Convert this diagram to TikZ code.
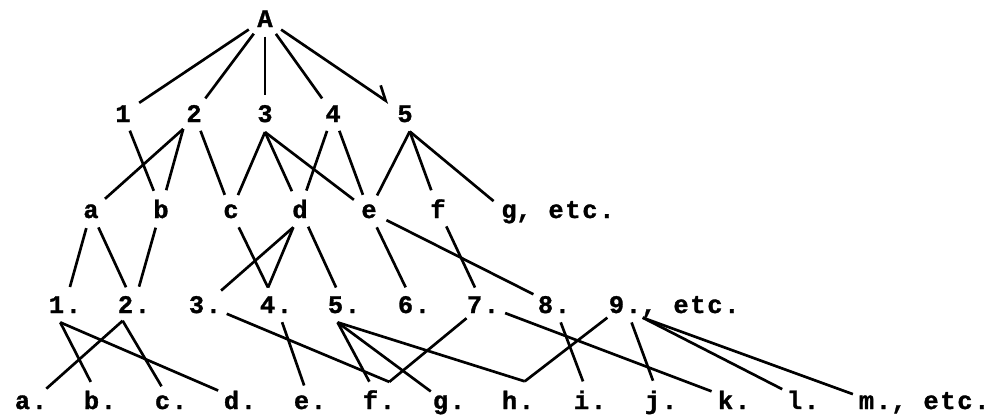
\documentclass[tikz,border=0pt]{standalone}
\usepackage{fontspec}
\usepackage{tikz}
\usetikzlibrary{arrows.meta, shapes.geometric}
\newfontfamily\typewriterfont{Liberation Mono}[UprightFont=* Bold, LetterSpace=7, FakeBold=1.2]
\tikzstyle{term} = [ellipse, inner xsep=1pt, inner ysep=3pt, minimum width=1cm, minimum height=0.85cm, anchor=base, font=\typewriterfont\fontsize{18}{21}\selectfont]
\tikzstyle{etctext} = [inner sep=0pt, anchor=base west, font=\typewriterfont\fontsize{18}{21}\selectfont]
\tikzstyle{link} = [line width=1.9pt]
\tikzstyle{arrow} = [link, -{Straight Barb[left, length=9pt, width=14pt]}]

\begin{document}
\begin{tikzpicture}[x=0.025cm, y=-0.025cm]
    \useasboundingbox (0,0) rectangle (1003,414);

    % Top
    \node[term] (A) at (265, 27) {A};

    % First level
    \node[term] (n1) at (123, 122) {1};
    \node[term] (n2) at (194, 122) {2};
    \node[term] (n3) at (265, 122) {3};
    \node[term] (n4) at (333, 122) {4};
    \node[term] (n5) at (405, 122) {5};

    % Second level
    \node[term] (a) at (91, 218) {a};
    \node[term] (b) at (161, 218) {b};
    \node[term] (c) at (231, 218) {c};
    \node[term] (d) at (300, 218) {d};
    \node[term] (e) at (369, 218) {e};
    \node[term] (f) at (438, 218) {f};
    \node[term] (g) at (509, 218) {g};
    \node[etctext] (getc) at (516, 218) {, etc.};

    % Third level
    \node[term] (r1) at (65, 313) {1.};
    \node[term] (r2) at (134, 313) {2.};
    \node[term] (r3) at (205, 313) {3.};
    \node[term] (r4) at (276, 313) {4.};
    \node[term] (r5) at (344, 313) {5.};
    \node[term] (r6) at (414, 313) {6.};
    \node[term] (r7) at (483, 313) {7.};
    \node[term] (r8) at (554, 313) {8.};
    \node[term] (r9) at (625, 313) {9.};
    \node[etctext] (retc) at (641, 313) {, etc.};

    % Fourth level
    \node[term] (sa) at (31, 409) {a.};
    \node[term] (sb) at (100, 409) {b.};
    \node[term] (sc) at (171, 409) {c.};
    \node[term] (sd) at (240, 409) {d.};
    \node[term] (se) at (310, 409) {e.};
    \node[term] (sf) at (379, 409) {f.};
    \node[term] (sg) at (449, 409) {g.};
    \node[term] (sh) at (518, 409) {h.};
    \node[term] (si) at (590, 409) {i.};
    \node[term] (sj) at (661, 409) {j.};
    \node[term] (sk) at (734, 409) {k.};
    \node[term] (sl) at (803, 409) {l.};
    \node[term] (sm) at (875, 409) {m.};
    \node[etctext] (setc) at (891, 409) {, etc.};

    % A to first level
    \draw[link] (A) -- (n1);
    \draw[link] (A) -- (n2);
    \draw[link] (A) -- (n3);
    \draw[link] (A) -- (n4);
    \draw[arrow] (A) -- (n5);

    % First to second level
    \draw[link] (n1) -- (b);
    \draw[link] (n2.235) -- (a);
    \draw[link] (n2.235) -- (b);
    \draw[link] (n2) -- (c);
    \draw[link] (n3.south) -- (c);
    \draw[link] (n3.south) -- (d);
    \draw[link] (n3.south) -- (e);
    \draw[link] (n4) -- (d);
    \draw[link] (n4) -- (e);
    \draw[link] (n5.285) -- (e);
    \draw[link] (n5.285) -- (f);
    \draw[link] (n5.285) -- (g);

    % Second to third level
    \draw[link] (a) -- (r1);
    \draw[link] (a) -- (r2);
    \draw[link] (b) -- (r2);
    \draw[link] (c) -- (r4.115);
    \draw[link] (d.250) -- (r4.115);
    \draw[link] (d.250) -- (r3);
    \draw[link] (d) -- (r5);
    \draw[link] (e) -- (r6);
    \draw[link] (e) -- (r8);
    \draw[link] (f) -- (r7);

    % Third to fourth level
    \draw[link] (r1.255) -- (sb);
    \draw[link] (r1.255) -- (sd);
    \draw[link] (r2.235) -- (sa);
    \draw[link] (r2.235) -- (sc);
    \draw[link] (r3) -- (sf.60);
    \draw[link] (r7) -- (sf.60);
    \draw[link] (r4) -- (se);
    \draw[link] (r5.250) -- (sf);
    \draw[link] (r5.250) -- (sg);
    \draw[link] (r5.250) -- (sh.70);
    \draw[link] (r9.south west) -- (sh.70);
    \draw[link] (r8) -- (si);
    \draw[link] (r7) -- (sk);
    \draw[link] (r9) -- (sj);
    \draw[link] (r9.south east) -- (sl);
    \draw[link] (r9.south east) -- (sm);
\end{tikzpicture}
\end{document}
